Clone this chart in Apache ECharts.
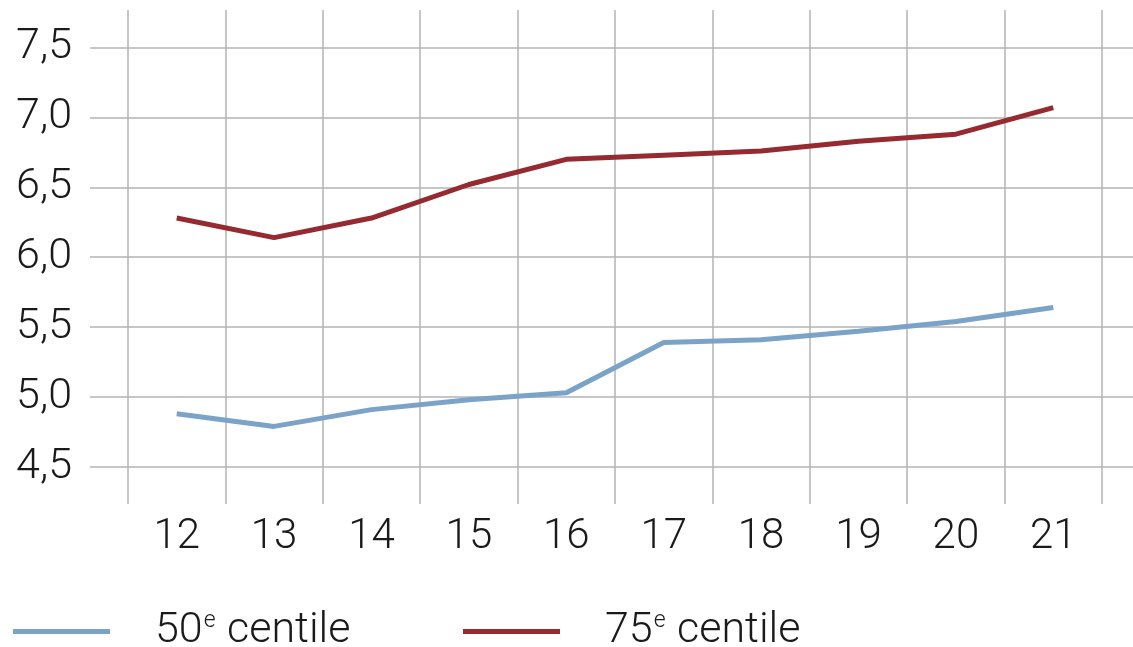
<!DOCTYPE html>
<html><head><meta charset="utf-8">
<script src="https://cdn.jsdelivr.net/npm/echarts@6/dist/echarts.min.js"></script>
<style>html,body{margin:0;padding:0;background:#fff}#c{width:1133px;height:647px}</style>
</head><body><div id="c"></div>
<script>
const categories = ['12','13','14','15','16','17','18','19','20','21'];
const p50 = [4.88, 4.79, 4.91, 4.98, 5.03, 5.39, 5.41, 5.47, 5.54, 5.64];
const p75 = [6.28, 6.14, 6.28, 6.52, 6.70, 6.73, 6.76, 6.83, 6.88, 7.07];
const seriesNames = ['50e centile', '75e centile'];
const yMin = 4.235, yMax = 7.768;

const FONT = 'Roboto';
const FS = 42;
const chart = echarts.init(document.getElementById('c'));
const gridColor = '#b3b3b3';
function legendFor(name, left) {
  return { left: left, top: 610, padding: 0, data: [name], icon: 'rect', itemWidth: 97, itemHeight: 5,
    textStyle: { fontSize: FS, fontWeight: 300, color: '#1a1a1a', padding: [0, 0, 0, 40],
      rich: { sup: { fontSize: 23, fontWeight: 300, verticalAlign: 'top', padding: [0, 1, 18, 1], color: '#1a1a1a' },
              t: { fontSize: FS + 1, fontWeight: 300, color: '#1a1a1a' } } },
    formatter: n => n.replace(/^(\d+)e (.*)$/, '{t|$1}{sup|e}{t| $2}') };
}
chart.setOption({
  animation: false,
  textStyle: { fontFamily: FONT },
  grid: [
    { left: 90, right: 0, top: 10, bottom: 143 },
    { left: 128, right: 31, top: 10, bottom: 143 }
  ],
  xAxis: [
    { gridIndex: 0, type: 'value', show: false, min: 0, max: 1 },
    { gridIndex: 1, type: 'category', data: categories, boundaryGap: true,
      axisLine: { show: false }, axisTick: { show: false },
      splitLine: { show: true, lineStyle: { color: gridColor, width: 1.5 } },
      axisLabel: { fontSize: FS, fontWeight: 300, color: '#1a1a1a', margin: 12, fontFamily: FONT } }
  ],
  yAxis: [
    { gridIndex: 0, type: 'value', min: yMin, max: yMax, splitNumber: 7,
      axisLine: { show: false }, axisTick: { show: false },
      splitLine: { show: true, showMinLine: false, showMaxLine: false, lineStyle: { color: gridColor, width: 1.5 } },
      axisLabel: { showMinLabel: false, showMaxLabel: false, fontSize: FS + 1, fontWeight: 300, color: '#1a1a1a', margin: 18, fontFamily: FONT,
        formatter: v => v.toFixed(1).replace('.', ',') } },
    { gridIndex: 1, type: 'value', min: yMin, max: yMax, show: false, splitLine: { show: false } }
  ],
  legend: [ legendFor(seriesNames[0], 13), legendFor(seriesNames[1], 463) ],
  series: [
    { name: seriesNames[0], type: 'line', xAxisIndex: 1, yAxisIndex: 1, data: p50,
      symbol: 'none', color: '#7ba3c8', lineStyle: { width: 5, color: '#7ba3c8' } },
    { name: seriesNames[1], type: 'line', xAxisIndex: 1, yAxisIndex: 1, data: p75,
      symbol: 'none', color: '#952a31', lineStyle: { width: 5, color: '#952a31' } }
  ]
});
</script></body></html>
